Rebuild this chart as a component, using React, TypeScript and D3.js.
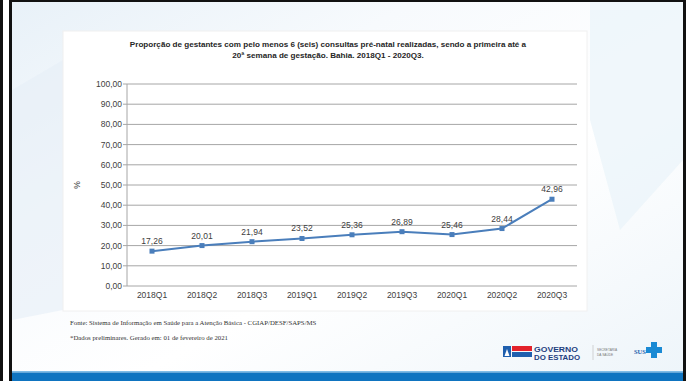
import React from "react";
import * as d3 from "d3";

const categories = ["2018Q1", "2018Q2", "2018Q3", "2019Q1", "2019Q2", "2019Q3", "2020Q1", "2020Q2", "2020Q3"];
const values = [17.26, 20.01, 21.94, 23.52, 25.36, 26.89, 25.46, 28.44, 42.96];
const yTicks = [0, 10, 20, 30, 40, 50, 60, 70, 80, 90, 100];
const titleLines = [
  "Proporção de gestantes com pelo menos 6 (seis) consultas pré-natal realizadas, sendo a primeira até a",
  "20ª semana de gestação. Bahia. 2018Q1 - 2020Q3.",
];
const footerLines = [
  "Fonte: Sistema de Informação em Saúde para a Atenção Básica - CGIAP/DESF/SAPS/MS",
  "*Dados preliminares. Gerado em: 01 de fevereiro de 2021",
];

const fmt = (v: number) => v.toFixed(2).replace(".", ",");

export default function App() {
  const W = 691, H = 381;
  const plot = { left: 127, right: 577, top: 84, bottom: 286 };
  const x = d3.scaleBand<string>().domain(categories).range([plot.left, plot.right]);
  const y = d3.scaleLinear().domain([0, 100]).range([plot.bottom, plot.top]);
  const cx = (c: string) => (x(c) as number) + x.bandwidth() / 2;
  const line = d3.line<number>().x((_, i) => cx(categories[i])).y((d) => y(d));
  const font = "'Liberation Sans', Arial, sans-serif";
  const blue = "#4a7ebb";

  return (
    <svg width={W} height={H} style={{ position: "absolute", left: 0, top: 0 }} fontFamily={font}>
      <defs>
        <linearGradient id="bg" x1="0" y1="0" x2="1" y2="1">
          <stop offset="0" stopColor="#e8f1f8" />
          <stop offset="0.3" stopColor="#f7fafd" />
          <stop offset="0.6" stopColor="#ffffff" />
          <stop offset="1" stopColor="#eef5fa" />
        </linearGradient>
      </defs>
      <rect x={0} y={0} width={W} height={H} fill="#fff" />
      <rect x={12} y={2} width={671} height={370} fill="url(#bg)" />
      <polygon points="590,2 683,2 683,160 620,230 590,120" fill="#eaf3f9" opacity={0.7} />
      <polygon points="12,90 63,60 63,310 12,320" fill="#e6eff7" opacity={0.6} />
      {/* chart box */}
      <rect x={63} y={31} width={524} height={280} fill="#fff" stroke="#f0f0f0" />
      {/* title */}
      {titleLines.map((t, i) => (
        <text key={i} x={328} y={47 + i * 11} textAnchor="middle" fontSize={8.1} fontWeight="bold" fill="#262626">
          {t}
        </text>
      ))}
      {/* grid */}
      {yTicks.map((t) => (
        <g key={t}>
          <line x1={plot.left - 4} x2={plot.right} y1={y(t)} y2={y(t)} stroke="#a6a6a6" strokeWidth={1} />
          <text x={plot.left - 5} y={y(t) + 3} textAnchor="end" fontSize={8.5} fill="#404040">
            {fmt(t)}
          </text>
        </g>
      ))}
      <line x1={plot.left} x2={plot.left} y1={plot.top} y2={plot.bottom} stroke="#a6a6a6" />
      {categories.map((c) => (
        <text key={c} x={cx(c)} y={plot.bottom + 12} textAnchor="middle" fontSize={8.5} fill="#404040">
          {c}
        </text>
      ))}
      <text transform={`translate(80,${(plot.top + plot.bottom) / 2}) rotate(-90)`} textAnchor="middle" fontSize={8.5} fill="#404040">
        %
      </text>
      {/* series */}
      <path d={line(values) || ""} fill="none" stroke={blue} strokeWidth={2} />
      {values.map((v, i) => (
        <g key={i}>
          <rect x={cx(categories[i]) - 2.5} y={y(v) - 2.5} width={5} height={5} fill={blue} />
          <text x={cx(categories[i])} y={y(v) - 7} textAnchor="middle" fontSize={8.5} fill="#404040">
            {fmt(v)}
          </text>
        </g>
      ))}
      {/* footer */}
      {footerLines.map((t, i) => (
        <text key={i} x={70} y={325 + i * 14.5} fontSize={6.8} fontFamily="'Liberation Serif', 'Times New Roman', serif" fill="#333">
          {t}
        </text>
      ))}
      {/* logos */}
      <rect x={503} y={346} width={8} height={11} fill="#1f5fae" />
      <polygon points="504.5,356 507,349 509.5,356" fill="#fff" />
      <rect x={512} y={346} width={20} height={5} fill="#e3222b" />
      <rect x={512} y={352} width={20} height={5} fill="#1f5fae" />
      <text x={534} y={351.5} fontSize={6.8} fontWeight="bold" fill="#1f3f80" textLength={44} lengthAdjust="spacingAndGlyphs">GOVERNO</text>
      <text x={534} y={359.5} fontSize={6.8} fontWeight="bold" fill="#1f3f80" textLength={46} lengthAdjust="spacingAndGlyphs">DO ESTADO</text>
      <line x1={593} x2={593} y1={345} y2={360} stroke="#bbb" strokeWidth={0.6} />
      <text x={597} y={351} fontSize={3.2} fill="#777">SECRETARIA</text>
      <text x={597} y={355.5} fontSize={3.2} fill="#777">DA SAÚDE</text>
      <text x={634} y={354} fontSize={6.5} fontWeight="bold" fontFamily="'Liberation Serif', serif" fill="#1f5fae">SUS</text>
      <rect x={651} y={342} width={6} height={16} fill="#1a8ad4" />
      <rect x={646} y={347} width={16} height={6} fill="#1a8ad4" />
      {/* bottom bar */}
      <rect x={9} y={371} width={677} height={1.5} fill="#7fbce6" />
      <rect x={9} y={372.5} width={677} height={9} fill="#0f74c0" />
      {/* borders */}
      <rect x={0} y={0} width={3} height={H} fill="#111" />
      <rect x={9} y={0} width={3} height={H} fill="#111" />
      <rect x={9} y={0} width={677} height={2} fill="#111" />
      <rect x={683} y={0} width={3} height={H} fill="#111" />
    </svg>
  );
}
